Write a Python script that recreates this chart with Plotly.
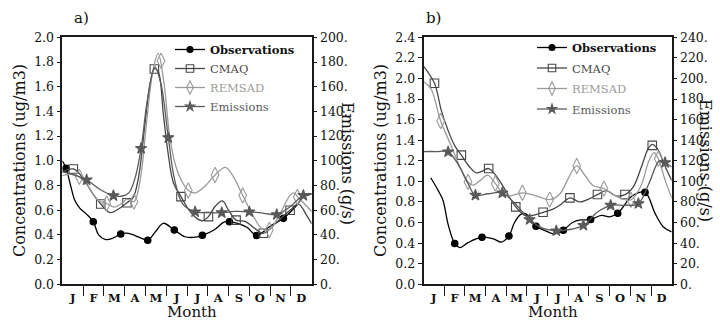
import plotly.graph_objects as go

# ---------------- data (x in months: 0 = start of Jan, 12 = end of Dec) ----------------
MONTHS = ["J", "F", "M", "A", "M", "J", "J", "A", "S", "O", "N", "D"]
MONTH_POS = [0.5, 1.5, 2.5, 3.5, 4.5, 5.5, 6.5, 7.5, 8.5, 9.5, 10.5, 11.5]
BOUNDARIES = [1, 2, 3, 4, 5, 6, 7, 8, 9, 10, 11]

# Panel a) -- concentrations (ug/m3), emissions (g/s)
A_OBS_X = [0.0, 0.18, 0.4, 0.6, 0.85, 1.15, 1.49, 1.75, 2.1, 2.45, 2.81, 3.1, 3.5, 3.85, 4.11, 4.5, 4.86, 5.39, 5.9, 6.3, 6.74, 7.3, 7.8, 8.04, 8.5, 8.9, 9.35, 10.0, 10.64, 11.28, 11.6, 12.0]
A_OBS_Y = [1.00, 0.94, 0.80, 0.68, 0.615, 0.57, 0.507, 0.40, 0.362, 0.375, 0.407, 0.415, 0.395, 0.37, 0.357, 0.43, 0.494, 0.44, 0.385, 0.38, 0.397, 0.44, 0.505, 0.507, 0.49, 0.46, 0.395, 0.47, 0.534, 0.64, 0.707, 0.733]
A_OBS_MX = [0.18, 1.49, 2.81, 4.11, 5.39, 6.74, 8.04, 9.35, 10.64]
A_OBS_MY = [0.94, 0.507, 0.407, 0.357, 0.44, 0.397, 0.507, 0.395, 0.534]

A_CMAQ_X = [0.0, 0.53, 1.0, 1.4, 1.85, 2.3, 2.7, 3.11, 3.4, 3.66, 3.98, 4.22, 4.43, 4.62, 4.86, 5.1, 5.35, 5.71, 6.1, 6.5, 6.75, 7.03, 7.35, 7.7, 8.0, 8.36, 8.8, 9.2, 9.67, 10.3, 10.96, 11.37, 11.75, 12.0]
A_CMAQ_Y = [0.91, 0.934, 0.86, 0.75, 0.65, 0.58, 0.61, 0.66, 0.70, 0.86, 1.30, 1.62, 1.745, 1.72, 1.38, 1.05, 0.82, 0.71, 0.60, 0.53, 0.515, 0.548, 0.63, 0.675, 0.60, 0.52, 0.51, 0.46, 0.413, 0.50, 0.60, 0.65, 0.56, 0.49]
A_CMAQ_MX = [0.53, 1.85, 3.11, 4.43, 5.71, 7.03, 8.36, 9.67, 10.96]
A_CMAQ_MY = [0.934, 0.65, 0.66, 1.743, 0.71, 0.548, 0.52, 0.413, 0.60]

A_REM_X = [0.0, 0.4, 0.82, 1.3, 1.7, 2.13, 2.5, 2.9, 3.1, 3.45, 3.75, 4.05, 4.35, 4.61, 4.9, 5.15, 5.42, 5.7, 6.06, 6.4, 6.9, 7.35, 7.85, 8.2, 8.68, 9.2, 9.6, 9.96, 10.5, 10.96, 11.15, 11.31, 11.6, 12.0]
A_REM_Y = [0.88, 0.89, 0.87, 0.78, 0.68, 0.655, 0.625, 0.66, 0.69, 0.67, 0.85, 1.30, 1.72, 1.87, 1.62, 1.22, 0.98, 0.85, 0.76, 0.74, 0.80, 0.885, 0.947, 0.88, 0.72, 0.55, 0.45, 0.44, 0.58, 0.72, 0.74, 0.71, 0.66, 0.59]
A_REM_MX = [0.82, 2.13, 3.45, 4.75, 6.06, 7.35, 8.68, 9.96, 11.31]
A_REM_MY = [0.87, 0.655, 0.67, 1.81, 0.76, 0.885, 0.72, 0.44, 0.707]

A_EMI_X = [0.0, 0.5, 1.17, 1.8, 2.46, 2.9, 3.2, 3.5, 3.79, 4.1, 4.45, 4.75, 5.1, 5.4, 5.8, 6.39, 7.0, 7.67, 8.3, 9.0, 9.7, 10.32, 10.9, 11.6, 12.0]
A_EMI_Y = [91, 89, 84.5, 77, 71.8, 71.5, 74, 86, 110, 150, 176, 162, 118.7, 85, 65, 58.7, 58, 58, 59, 58.7, 57.5, 56.5, 62, 72, 73.3]
A_EMI_MX = [1.17, 2.46, 3.79, 5.1, 6.39, 7.67, 9.0, 10.32, 11.6]
A_EMI_MY = [84.5, 71.8, 110, 118.7, 58.7, 58, 58.7, 56.5, 72]

# Panel b)
B_OBS_X = [0.35, 0.7, 0.94, 1.18, 1.43, 1.51, 1.75, 2.15, 2.83, 3.4, 3.76, 4.13, 4.4, 4.7, 4.95, 5.2, 5.44, 5.9, 6.3, 6.76, 7.2, 7.6, 8.08, 8.6, 9.0, 9.39, 10.1, 10.71, 11.2, 11.6, 12.0]
B_OBS_Y = [1.035, 0.915, 0.817, 0.59, 0.428, 0.396, 0.357, 0.405, 0.457, 0.44, 0.41, 0.47, 0.60, 0.68, 0.685, 0.63, 0.564, 0.52, 0.49, 0.525, 0.60, 0.625, 0.629, 0.67, 0.655, 0.69, 0.86, 0.893, 0.687, 0.557, 0.51]
B_OBS_MX = [1.51, 2.83, 4.13, 5.44, 6.76, 8.08, 9.39, 10.71]
B_OBS_MY = [0.396, 0.457, 0.47, 0.564, 0.525, 0.629, 0.69, 0.893]

B_CMAQ_X = [0.0, 0.53, 0.86, 1.18, 1.5, 1.83, 2.23, 2.55, 2.85, 3.15, 3.6, 4.0, 4.46, 4.9, 5.3, 5.78, 6.26, 6.6, 7.08, 7.55, 8.0, 8.41, 8.85, 9.3, 9.74, 10.15, 10.55, 10.87, 11.06, 11.3, 11.76, 12.0]
B_CMAQ_Y = [2.12, 1.953, 1.69, 1.50, 1.35, 1.255, 1.14, 1.083, 1.10, 1.125, 1.03, 0.90, 0.752, 0.67, 0.67, 0.70, 0.73, 0.77, 0.84, 0.80, 0.83, 0.872, 0.91, 0.86, 0.872, 0.95, 1.15, 1.32, 1.36, 1.32, 1.11, 1.01]
B_CMAQ_MX = [0.53, 1.83, 3.15, 4.46, 5.78, 7.08, 8.41, 9.74, 11.06]
B_CMAQ_MY = [1.953, 1.255, 1.125, 0.752, 0.70, 0.84, 0.872, 0.872, 1.35]

B_REM_X = [0.0, 0.36, 0.83, 1.35, 1.83, 2.15, 2.4, 2.75, 3.1, 3.47, 3.9, 4.2, 4.78, 5.36, 6.1, 6.6, 7.0, 7.41, 7.8, 8.2, 8.72, 9.2, 9.6, 10.03, 10.5, 10.9, 11.15, 11.35, 11.7, 12.0]
B_REM_Y = [1.97, 1.90, 1.586, 1.34, 1.11, 0.995, 0.963, 1.01, 1.06, 0.98, 0.87, 0.86, 0.889, 0.865, 0.823, 0.88, 1.03, 1.15, 1.06, 0.96, 0.93, 0.87, 0.83, 0.82, 0.95, 1.20, 1.28, 1.22, 1.00, 0.84]
B_REM_MX = [0.83, 2.15, 3.47, 4.78, 6.1, 7.41, 8.72, 10.03, 11.35]
B_REM_MY = [1.586, 0.995, 0.98, 0.889, 0.823, 1.15, 0.93, 0.82, 1.22]

B_EMI_X = [0.0, 0.6, 1.19, 1.66, 2.15, 2.51, 3.13, 3.81, 4.42, 5.13, 5.7, 6.42, 7.0, 7.73, 8.4, 9.05, 9.8, 10.39, 10.9, 11.4, 11.68, 12.0]
B_EMI_Y = [129, 129, 128.7, 117, 98, 86.6, 88, 88.8, 78.5, 62.9, 55, 52, 53, 57.3, 70, 76.8, 76.8, 78.4, 98, 120, 118.3, 114]
B_EMI_MX = [1.19, 2.51, 3.81, 5.13, 6.42, 7.73, 9.05, 10.39, 11.68]
B_EMI_MY = [128.7, 86.6, 88.8, 62.9, 52, 57.3, 76.8, 78.4, 118.3]

A_CONC_TICKS = [0.0, 0.2, 0.4, 0.6, 0.8, 1.0, 1.2, 1.4, 1.6, 1.8, 2.0]
A_EMIS_TICKS = [0, 20, 40, 60, 80, 100, 120, 140, 160, 180, 200]
B_CONC_TICKS = [0.0, 0.2, 0.4, 0.6, 0.8, 1.0, 1.2, 1.4, 1.6, 1.8, 2.0, 2.2, 2.4]
B_EMIS_TICKS = [0, 20, 40, 60, 80, 100, 120, 140, 160, 180, 200, 220, 240]

# ---------------- style ----------------
W, H = 720, 321
FONT = "DejaVu Serif"
AXC = "#1a1a1a"
STY = {
    "obs": dict(color="#000000", symbol="circle", size=6.5, lsize=6, name="<b>Observations</b>"),
    "cmaq": dict(color="#474747", symbol="square-open", size=8.5, lsize=7.5,
                 name="<span style='color:#474747'>CMAQ</span>"),
    "rem": dict(color="#9a9a9a", symbol="diamond-tall-open", size=11, lsize=9.5,
                name="<span style='color:#9a9a9a'>REMSAD</span>"),
    "emi": dict(color="#5a5a5a", symbol="star", size=8.5, lsize=7,
                name="<span style='color:#5a5a5a'>Emissions</span>"),
}

def px_x(p):
    return p / W

def px_y(p):
    return 1 - p / H

fig = go.Figure()

def add_series(key, cx, cy, mx, my, xa, ya, legend, proxy_xa):
    s = STY[key]
    fig.add_trace(go.Scatter(x=cx, y=cy, mode="lines", line=dict(color=s["color"], width=1.3, shape="spline", smoothing=1.0),
                             xaxis=xa, yaxis=ya, showlegend=False, hoverinfo="skip"))
    fig.add_trace(go.Scatter(x=mx, y=my, mode="markers",
                             marker=dict(color=s["color"], symbol=s["symbol"], size=s["size"],
                                         line=dict(color=s["color"], width=1.1)),
                             xaxis=xa, yaxis=ya, showlegend=False, hoverinfo="skip"))
    # legend entry
    fig.add_trace(go.Scatter(x=[None], y=[None], mode="lines+markers", name=s["name"],
                             line=dict(color=s["color"], width=1.3),
                             marker=dict(color=s["color"], symbol=s["symbol"], size=s["lsize"],
                                         line=dict(color=s["color"], width=1.1)),
                             xaxis=proxy_xa, yaxis=ya, legend=legend, legendgroup=legend + key))

add_series("obs", A_OBS_X, A_OBS_Y, A_OBS_MX, A_OBS_MY, "x", "y", "legend", "x3")
add_series("cmaq", A_CMAQ_X, A_CMAQ_Y, A_CMAQ_MX, A_CMAQ_MY, "x", "y", "legend", "x")
add_series("rem", A_REM_X, A_REM_Y, A_REM_MX, A_REM_MY, "x", "y", "legend", "x")
add_series("emi", A_EMI_X, A_EMI_Y, A_EMI_MX, A_EMI_MY, "x", "y3", "legend", "x")

add_series("obs", B_OBS_X, B_OBS_Y, B_OBS_MX, B_OBS_MY, "x2", "y2", "legend2", "x4")
add_series("cmaq", B_CMAQ_X, B_CMAQ_Y, B_CMAQ_MX, B_CMAQ_MY, "x2", "y2", "legend2", "x2")
add_series("rem", B_REM_X, B_REM_Y, B_REM_MX, B_REM_MY, "x2", "y2", "legend2", "x2")
add_series("emi", B_EMI_X, B_EMI_Y, B_EMI_MX, B_EMI_MY, "x2", "y4", "legend2", "x2")

ydom = [px_y(284.3), px_y(37.3)]
tickfont = dict(family=FONT, size=12.5, color="#111")

def xaxis(dom, anchor):
    return dict(domain=dom, anchor=anchor, range=[0, 12], tickmode="array", tickvals=MONTH_POS,
                ticktext=["<b>%s</b>" % m for m in MONTHS],
                ticks="outside", ticklen=2, tickcolor="rgba(0,0,0,0)",
                tickfont=dict(family=FONT, size=11.5, color="#111"),
                showline=True, linecolor=AXC, linewidth=1.5, mirror=True,
                showgrid=False, zeroline=False, automargin=False)

def xbound(dom, over, anchor):
    # month-boundary tick marks below the axis
    return dict(domain=dom, overlaying=over, anchor=anchor, side="bottom", range=[0, 12],
                tickmode="array", tickvals=BOUNDARIES, ticks="outside", ticklen=11, tickwidth=1.4,
                tickcolor=AXC, showticklabels=False, showline=False, showgrid=False,
                zeroline=False, automargin=False)

def yleft(anchor, rng, vals):
    return dict(domain=ydom, anchor=anchor, range=rng, tickmode="array", tickvals=vals,
                ticktext=["%.1f" % v for v in vals], ticks="outside", ticklen=4, tickwidth=1.3,
                tickcolor=AXC, tickfont=tickfont, showline=True, linecolor=AXC, linewidth=1.5,
                showgrid=False, zeroline=False, automargin=False)

def yright(anchor, over, rng, vals):
    return dict(domain=ydom, anchor=anchor, overlaying=over, side="right", range=rng,
                tickmode="array", tickvals=vals, ticktext=["%d." % v for v in vals],
                ticks="outside", ticklen=4, tickwidth=1.3, tickcolor=AXC, tickfont=tickfont,
                showline=True, linecolor=AXC, linewidth=1.5, showgrid=False, zeroline=False,
                automargin=False)

leg_font = dict(family=FONT, size=11.5, color="#111")
XA = [px_x(62.3), px_x(311.7)]
XB = [px_x(423.5), px_x(671.7)]
fig.update_layout(
    width=W, height=H, margin=dict(l=0, r=0, t=0, b=0, autoexpand=False),
    paper_bgcolor="white", plot_bgcolor="white",
    xaxis=xaxis(XA, "y"),
    xaxis2=xaxis(XB, "y2"),
    xaxis3=xbound(XA, "x", "y"),
    xaxis4=xbound(XB, "x2", "y2"),
    yaxis=yleft("x", [0, 2.0], A_CONC_TICKS),
    yaxis2=yleft("x2", [0, 2.4], B_CONC_TICKS),
    yaxis3=yright("x", "y", [0, 200], A_EMIS_TICKS),
    yaxis4=yright("x2", "y2", [0, 240], B_EMIS_TICKS),
    legend=dict(x=px_x(170), y=px_y(35), xanchor="left", yanchor="top", bgcolor="rgba(0,0,0,0)",
                font=leg_font, traceorder="grouped", tracegroupgap=0, itemwidth=30),
    legend2=dict(x=px_x(532), y=px_y(33), xanchor="left", yanchor="top", bgcolor="rgba(0,0,0,0)",
                 font=leg_font, traceorder="grouped", tracegroupgap=1.5, itemwidth=30),
    showlegend=True,
)

ann = []
ann.append(dict(text="a)", x=px_x(72), y=px_y(18), xanchor="left", yanchor="middle"))
ann.append(dict(text="b)", x=px_x(424), y=px_y(18), xanchor="left", yanchor="middle"))
for a in ann:
    a.update(xref="paper", yref="paper", showarrow=False, font=dict(family=FONT, size=15, color="#111"))
titles = [
    dict(text="Concentrations (ug/m3)", x=px_x(20), y=px_y(161), textangle=-90, size=16),
    dict(text="Concentrations (ug/m3)", x=px_x(381), y=px_y(161), textangle=-90, size=16),
    dict(text="Emissions (g/s)", x=px_x(347), y=px_y(163), textangle=90, size=16),
    dict(text="Emissions (g/s)", x=px_x(706), y=px_y(160), textangle=90, size=16),
    dict(text="Month", x=px_x(192), y=px_y(312), textangle=0, size=15),
    dict(text="Month", x=px_x(553), y=px_y(312), textangle=0, size=15),
]
for t in titles:
    sz = t.pop("size")
    t.update(xref="paper", yref="paper", showarrow=False, xanchor="center", yanchor="middle",
             font=dict(family=FONT, size=sz, color="#111"))
fig.update_layout(annotations=ann + titles)

fig.write_html("out.html", config={"displayModeBar": False},
               post_script="document.body.style.margin='0';document.body.style.padding='0';")
